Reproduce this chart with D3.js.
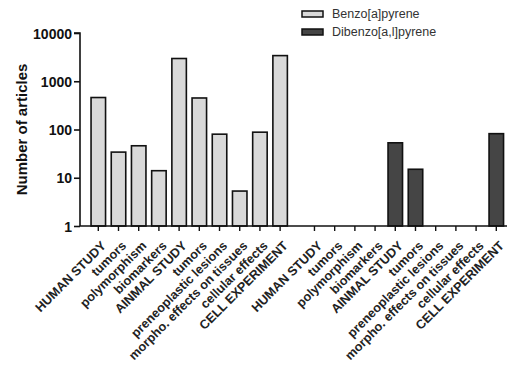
<!DOCTYPE html>
<html>
<head>
<meta charset="utf-8">
<script src="https://cdn.jsdelivr.net/npm/d3@7"></script>
<style>
  html, body { margin: 0; padding: 0; background: #fff; }
  svg { display: block; }
  text { font-family: "Liberation Sans", Arial, sans-serif; }
</style>
</head>
<body>
<svg id="chart" width="507" height="367"></svg>
<script>
// Article counts per topic, one bar group per compound
const categories = [
  "HUMAN STUDY", "tumors", "polymorphism", "biomarkers", "AINMAL STUDY",
  "tumors", "preneoplastic lesions", "morpho. effects on tissues",
  "cellular effects", "CELL EXPERIMENT"
];
const benzoValues = [460, 34, 46, 14, 2960, 450, 80, 5.3, 88, 3400];
const dibenzoValues = [0, 0, 0, 0, 53, 15, 0, 0, 0, 82];
const seriesNames = ["Benzo[a]pyrene", "Dibenzo[a,l]pyrene"];
const seriesColors = ["#d9d9d9", "#454545"];
const yTicks = [1, 10, 100, 1000, 10000];

const svg = d3.select("#chart");
const axisX = 80, baseY = 226, topY = 33;

// Slot positions: group 2 begins after a gap of ~1.7 slots
const groupGap = 10.7;
const x = d3.scaleLinear().domain([0, groupGap + 9]).range([98.3, 496.3]);
const y = d3.scaleLog().domain([1, 10000]).range([baseY, topY]);
const barW = 14.5;

const bars = [];
[benzoValues, dibenzoValues].forEach((vals, s) => {
  vals.forEach((v, i) => {
    bars.push({ slot: s * groupGap + i, value: v, series: s, label: categories[i] });
  });
});

// Bars (zero counts cannot be drawn on a log axis)
svg.append("g").selectAll("rect")
  .data(bars.filter(d => d.value > 0))
  .join("rect")
  .attr("x", d => x(d.slot) - barW / 2)
  .attr("y", d => y(d.value))
  .attr("width", barW)
  .attr("height", d => baseY - y(d.value))
  .attr("fill", d => seriesColors[d.series])
  .attr("stroke", "#111")
  .attr("stroke-width", 1.6);

// Y axis
const yAxis = d3.axisLeft(y).tickValues(yTicks).tickFormat(d3.format("d")).tickSize(6).tickPadding(2);
const gy = svg.append("g").attr("transform", `translate(${axisX},0)`).call(yAxis);
gy.select(".domain").attr("stroke", "#111").attr("stroke-width", 1.6).attr("d", `M-6,${topY}H0V${baseY}`);
gy.selectAll(".tick line").attr("stroke", "#111").attr("stroke-width", 1.6);
gy.selectAll(".tick text")
  .attr("fill", "#111")
  .style("font-size", "14px")
  .style("font-weight", "bold")
  .attr("dy", "0.36em");

// X axis
const gx = svg.append("g").attr("transform", `translate(0,${baseY})`);
gx.append("line").attr("x1", axisX).attr("x2", 507).attr("stroke", "#111").attr("stroke-width", 1.6);
const xt = gx.selectAll("g.xtick").data(bars).join("g")
  .attr("class", "xtick")
  .attr("transform", d => `translate(${x(d.slot)},0)`);
xt.append("line").attr("y2", 5).attr("stroke", "#111").attr("stroke-width", 1.4);
xt.append("text")
  .attr("transform", "translate(2,14) rotate(-45)")
  .attr("text-anchor", "end")
  .attr("dy", "0.72em")
  .attr("fill", "#222")
  .style("font-size", "12.7px")
  .style("font-weight", "bold")
  .text(d => d.label);

// Y axis title
svg.append("text")
  .attr("transform", `translate(27,${(topY + baseY) / 2}) rotate(-90)`)
  .attr("text-anchor", "middle")
  .attr("fill", "#111")
  .style("font-size", "15px")
  .style("font-weight", "bold")
  .text("Number of articles");

// Legend
const lg = svg.append("g").selectAll("g").data(seriesNames).join("g")
  .attr("transform", (d, i) => `translate(302,${11 + i * 18})`);
lg.append("rect").attr("width", 21).attr("height", 6)
  .attr("fill", (d, i) => seriesColors[i]).attr("stroke", "#111").attr("stroke-width", 1.5);
lg.append("text").attr("x", 30).attr("y", 3).attr("dy", "0.35em")
  .attr("fill", "#333").style("font-size", "12.5px").text(d => d);
</script>
</body>
</html>
